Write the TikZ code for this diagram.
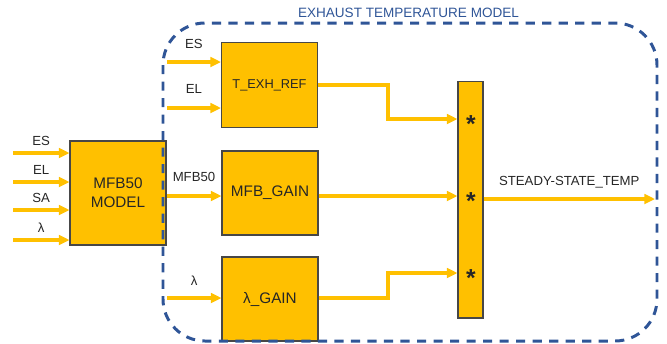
\documentclass[tikz,border=0pt]{standalone}
\usepackage{fontspec}
\setmainfont{Liberation Sans}
\usetikzlibrary{arrows.meta}

\definecolor{amber}{HTML}{FFC000}
\definecolor{navy}{HTML}{2F5597}
\definecolor{ink}{HTML}{262626}

\tikzset{
  block/.style={draw=ink!85, line width=0.6pt, fill=amber, inner sep=0pt,
    minimum width=1.92cm, minimum height=1.68cm, align=center,
    font=\fontsize{8.7}{10.8}\selectfont},
  sig/.style={draw=amber, line width=2pt, -{Triangle[length=6pt, width=5.5pt]}},
  tag/.style={font=\fontsize{7.5}{9}\selectfont, text=ink},
  sign/.style={font=\fontsize{14}{14}\bfseries, text=ink, inner sep=0pt, yshift=-3pt},
  region/.style={draw=navy, line width=1.7pt, dash pattern=on 5.2pt off 4.2pt,
    rounded corners=0.84cm}
}

\begin{document}
\begin{tikzpicture}[x=0.02cm, y=-0.02cm, text=ink]
  \useasboundingbox (0,0) rectangle (667,343);

  % Blocks
  \node[block, minimum height=2.08cm] (mfb) at (118,193) {MFB50\\MODEL};
  \node[block, minimum height=1.70cm, font=\fontsize{7.3}{9}\selectfont] (texh) at (269.5,85) {T\_EXH\_REF};
  \node[block] (mfbgain) at (270,193) {MFB\_GAIN};
  \node[block] (lamgain) at (270,299) {λ\_GAIN};
  \node[block, minimum width=0.5cm, minimum height=4.74cm] (prod) at (470.5,199.5) {};

  % Product signs
  \node[sign] (star1) at (471,119) {*};
  \node[sign] (star2) at (471,196) {*};
  \node[sign] (star3) at (471,273) {*};

  % Inputs of the MFB50 model
  \coordinate (inES) at (13,153);
  \coordinate (inEL) at (13,182);
  \coordinate (inSA) at (13,210);
  \coordinate (inLam) at (13,240);
  \draw[sig] (inES) -- (inES -| mfb.west) node[tag, midway, above] {ES};
  \draw[sig] (inEL) -- (inEL -| mfb.west) node[tag, midway, above] {EL};
  \draw[sig] (inSA) -- (inSA -| mfb.west) node[tag, midway, above] {SA};
  \draw[sig] (inLam) -- (inLam -| mfb.west) node[tag, midway, above] {λ};

  % Inputs of the gain blocks
  \coordinate (refES) at (167,62);
  \coordinate (refEL) at (167,108);
  \coordinate (gainLam) at (167,298);
  \draw[sig] (refES) -- (refES -| texh.west) node[tag, midway, above=3pt] {ES};
  \draw[sig] (refEL) -- (refEL -| texh.west) node[tag, midway, above=4pt] {EL};
  \draw[sig] (mfb.east |- 0,196) -- (mfbgain.west |- 0,196) node[tag, midway, above=4pt] {MFB50};
  \draw[sig] (gainLam) -- (gainLam -| lamgain.west) node[tag, midway, above=3pt] {λ};

  % Into the product
  \draw[sig] (texh.east) -- (388,85) |- (0,119 -| prod.west);
  \draw[sig] (mfbgain.east |- 0,196) -- (0,196 -| prod.west);
  \draw[sig] (lamgain.east |- 0,298) -- (388,298) |- (0,273 -| prod.west);

  % Output
  \coordinate (out) at (655,199);
  \draw[sig] (prod.east |- out) -- (out) node[tag, midway, above=2pt] {STEADY-STATE\_TEMP};

  % Model border
  \draw[region] (163,23) rectangle (657,341);
  \node[text=navy, font=\fontsize{7.7}{9}\selectfont] (title) at (408.5,13) {EXHAUST TEMPERATURE MODEL};
\end{tikzpicture}
\end{document}
